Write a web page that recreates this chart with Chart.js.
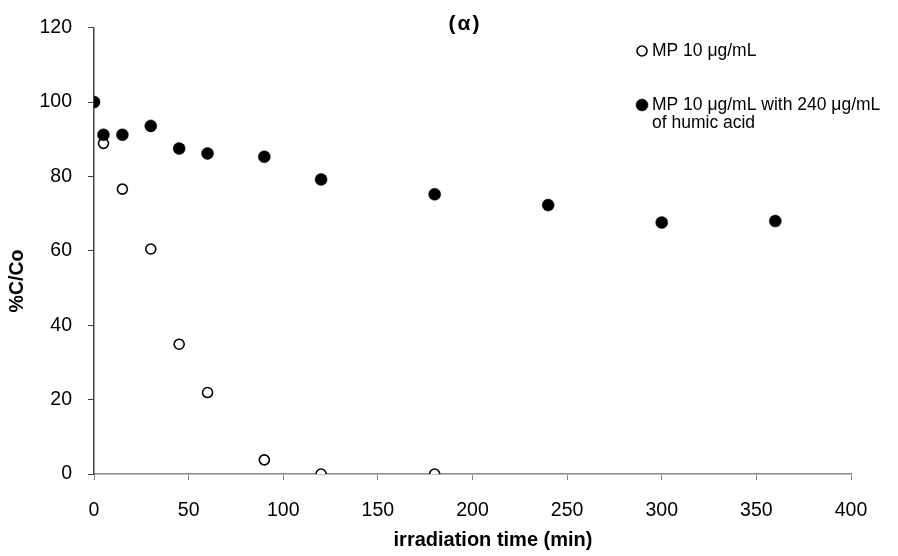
<!DOCTYPE html>
<html>
<head>
<meta charset="utf-8">
<script src="https://cdn.jsdelivr.net/npm/chart.js@4/dist/chart.umd.min.js"></script>
<style>
html,body{margin:0;padding:0;background:#fff;}
#wrap{width:898px;height:556px;position:relative;}
</style>
</head>
<body>
<div id="wrap"><canvas id="c" width="898" height="556"></canvas></div>
<script>
const chartTitle = "(α)";
const xTitle = "irradiation time (min)";
const yTitle = "%C/Co";
const seriesNames = ["MP 10 μg/mL", "MP 10 μg/mL with 240 μg/mL|of humic acid"];
const timesMP = [0, 5, 15, 30, 45, 60, 90, 120, 180];
const valuesMP = [100, 88.9, 76.6, 60.5, 34.9, 21.9, 3.8, 0, 0];
const timesHA = [0, 5, 15, 30, 45, 60, 90, 120, 180, 240, 300, 360];
const valuesHA = [100, 91.2, 91.2, 93.6, 87.5, 86.2, 85.3, 79.2, 75.2, 72.3, 67.6, 68.0];
const xTicks = [0, 50, 100, 150, 200, 250, 300, 350, 400];
const yTicks = [0, 20, 40, 60, 80, 100, 120];

const FONT = "'Liberation Sans', Arial, sans-serif";

const toPts = (xs, ys) => xs.map((x, i) => ({x: x, y: ys[i]}));

const overlay = {
  id: 'overlay',
  afterDraw(chart) {
    const ctx = chart.ctx;
    ctx.save();
    ctx.fillStyle = '#000';
    // chart title
    ctx.font = 'bold 21px ' + FONT;
    ctx.textAlign = 'center';
    ctx.textBaseline = 'middle';
    try { ctx.letterSpacing = '2px'; } catch (e) {}
    ctx.fillText(chartTitle, 465, 24);
    try { ctx.letterSpacing = '0px'; } catch (e) {}
    // axis titles
    ctx.font = 'bold 20px ' + FONT;
    ctx.fillText(xTitle, 493, 540);
    ctx.save();
    ctx.translate(18, 281);
    ctx.rotate(-Math.PI / 2);
    ctx.font = 'bold 19.5px ' + FONT;
    ctx.fillText(yTitle, 0, 0);
    ctx.restore();
    // legend
    ctx.font = '17.5px ' + FONT;
    ctx.textAlign = 'left';
    const rowsY = [51, 105];
    chart.data.datasets.forEach((ds, i) => {
      const lines = seriesNames[i].split('|');
      const y = rowsY[i];
      ctx.fillStyle = ds.pointBackgroundColor;
      ctx.strokeStyle = ds.pointBorderColor;
      ctx.lineWidth = ds.pointBorderWidth;
      ctx.beginPath();
      ctx.arc(642, y, ds.pointRadius, 0, Math.PI * 2);
      ctx.fill();
      ctx.stroke();
      ctx.fillStyle = '#000';
      lines.forEach((ln, j) => ctx.fillText(ln, 652, y + j * 18.5));
    });
    ctx.restore();
  }
};

new Chart(document.getElementById('c'), {
  type: 'scatter',
  data: {
    datasets: [
      {
        label: seriesNames[0],
        data: toPts(timesMP, valuesMP),
        pointRadius: 5, pointHoverRadius: 5,
        pointBackgroundColor: '#ffffff', pointBorderColor: '#000000',
        borderWidth: 1.6, pointBorderWidth: 1.6, showLine: false, order: 2
      },
      {
        label: seriesNames[1],
        data: toPts(timesHA, valuesHA),
        pointRadius: 6, pointHoverRadius: 6,
        pointBackgroundColor: '#000000', pointBorderColor: '#000000',
        borderWidth: 0.5, pointBorderWidth: 0.5, showLine: false, order: 1
      }
    ]
  },
  options: {
    responsive: false,
    animation: false,
    events: [],
    layout: {padding: {top: 27, right: 47, left: 0, bottom: 0}},
    plugins: {legend: {display: false}, title: {display: false}, tooltip: {enabled: false}},
    scales: {
      x: {
        type: 'linear', min: 0, max: 400,
        afterBuildTicks(s) { s.ticks = xTicks.map(v => ({value: v})); },
        afterFit(s) { s.height = 82; },
        grid: {drawOnChartArea: false, drawTicks: true, tickLength: 6, color: '#888888', lineWidth: 1},
        border: {display: true, color: '#888888', width: 1.5},
        ticks: {color: '#000', font: {family: FONT, size: 19.5}, padding: 18.5, maxRotation: 0},
        title: {display: false}
      },
      y: {
        type: 'linear', min: 0, max: 120,
        afterBuildTicks(s) { s.ticks = yTicks.map(v => ({value: v})); },
        afterFit(s) { s.width = 94; },
        grid: {drawOnChartArea: false, drawTicks: true, tickLength: 6, color: '#444444', lineWidth: 1},
        border: {display: true, color: '#444444', width: 1.5},
        ticks: {color: '#000', font: {family: FONT, size: 19.5}, padding: 16},
        title: {display: false}
      }
    }
  },
  plugins: [overlay]
});
</script>
</body>
</html>
